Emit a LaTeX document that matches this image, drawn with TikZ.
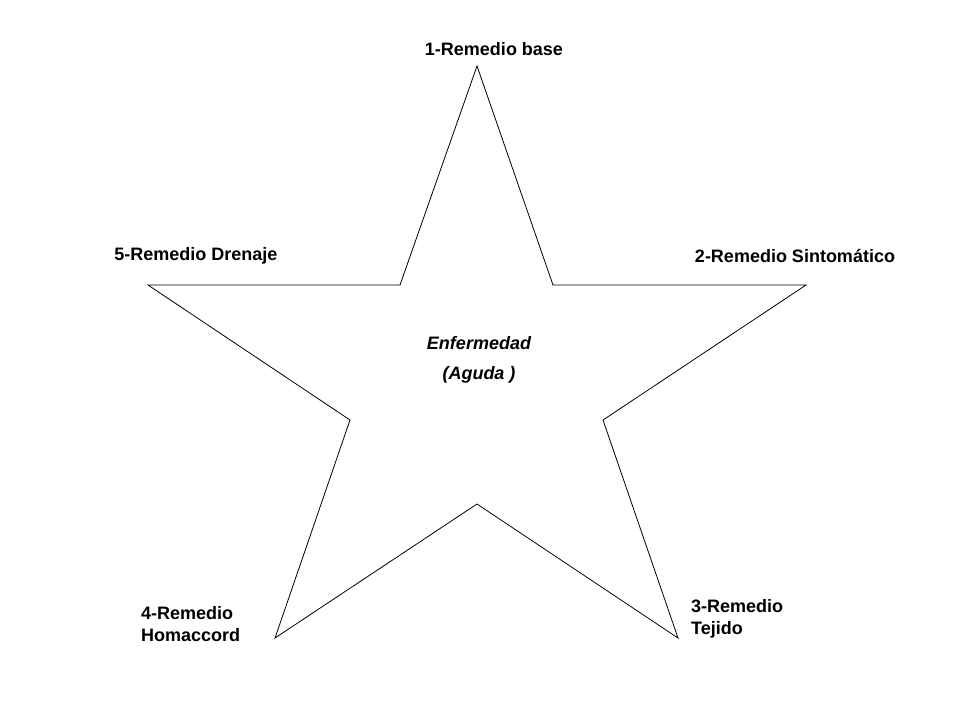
\documentclass[tikz,border=0pt]{standalone}
\usepackage{fontspec}
\setmainfont{Liberation Sans}
\begin{document}
\begin{tikzpicture}[x=1pt,y=-1pt,lab/.style={font=\bfseries\fontsize{18}{22}\selectfont,inner sep=0pt,align=left}]
\useasboundingbox (0,0) rectangle (960,720);
\coordinate (p1) at (477,66);
\coordinate (p2) at (553,285);
\coordinate (p3) at (806,285);
\coordinate (p4) at (603,420);
\coordinate (p5) at (678,638);
\coordinate (p6) at (477,504);
\coordinate (p7) at (275,638);
\coordinate (p8) at (350,420);
\coordinate (p9) at (148,285);
\coordinate (p10) at (400,285);
\draw[line width=0.8pt] (p1)--(p2)--(p3)--(p4)--(p5)--(p6)--(p7)--(p8)--(p9)--(p10)--cycle;
\node[lab,anchor=center] (t1) at (494,49) {1-Remedio base};
\node[lab,anchor=center] (t2) at (795,256) {2-Remedio Sintomático};
\node[lab,anchor=center] (t5) at (196,256) {5-Remedio Drenaje};
\node[lab,anchor=north west] (t3) at (691,599) {3-Remedio\\Tejido};
\node[lab,anchor=north west] (t4) at (141,606) {4-Remedio\\Homaccord};
\node[lab,anchor=center,font=\bfseries\itshape\fontsize{18}{22}\selectfont] (c) at (479,343) {Enfermedad};
\node[lab,anchor=center,font=\bfseries\itshape\fontsize{18}{22}\selectfont] (c2) at (479,375) {(Aguda )};
\end{tikzpicture}
\end{document}
